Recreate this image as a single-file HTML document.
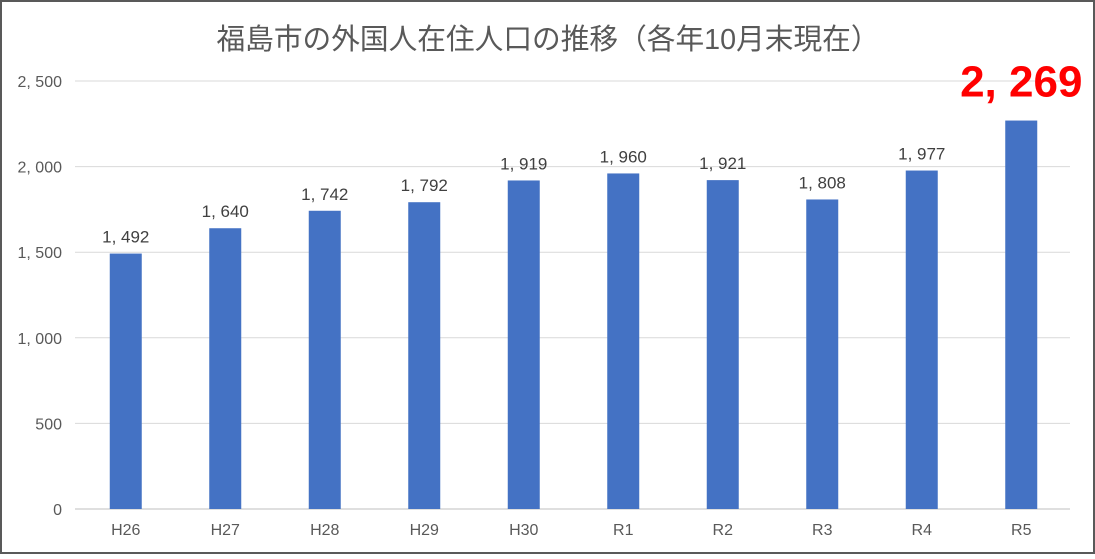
<!DOCTYPE html>
<html><head><meta charset="utf-8"><style>
body{margin:0;background:#fff}
svg text{font-family:"Liberation Sans","Noto Sans CJK JP",sans-serif}
</style></head><body>
<svg width="1095" height="554" viewBox="0 0 1095 554">
<rect x="1" y="1" width="1093" height="552" fill="#fff" stroke="#595959" stroke-width="2"/>
<text x="548" y="49" text-anchor="middle" font-size="28.7" fill="#595959">福島市の外国人在住人口の推移（各年10月末現在）</text>
<g id="grid"></g>
<g id="yt"></g>
<g id="bars"></g>
<g id="xt"></g>
</svg>
<script>
const categories=["H26","H27","H28","H29","H30","R1","R2","R3","R4","R5"];
const values=[1492,1640,1742,1792,1919,1960,1921,1808,1977,2269];
const yTicks=[0,500,1000,1500,2000,2500];
const NS="http://www.w3.org/2000/svg";
const x0=75,x1=1070,yBase=509,yMax=2500,yTop=81;
const y=v=>yBase-(v/yMax)*(yBase-yTop);
const band=(x1-x0)/categories.length;
const xc=i=>x0+band*(i+0.5);
const fmt=v=>v.toLocaleString('en-US').replace(',',', ');
function mk(t,a,p,txt){const e=document.createElementNS(NS,t);for(const k in a)e.setAttribute(k,a[k]);if(txt!=null)e.textContent=txt;p.appendChild(e);return e;}
const g=document.getElementById('grid'),yt=document.getElementById('yt'),b=document.getElementById('bars'),xt=document.getElementById('xt');
yTicks.forEach(v=>{
 const l=mk('line',{x1:x0,x2:x1,y1:y(v),y2:y(v),stroke:v===0?'#bfbfbf':'#d9d9d9','stroke-width':1},g);
 
 
 const t=mk('text',{x:62,y:y(v)+6,'text-anchor':'end','font-size':16,fill:'#595959'},yt,fmt(v));
 
 
});
categories.forEach((c,i)=>{
 const v=values[i],w=32;
 const r=mk('rect',{x:xc(i)-w/2+1,y:y(v),width:w,height:yBase-y(v),fill:'#4472c4'},b);
 
 
 const last=i===categories.length-1;
 const t=mk('text',{x:xc(i)+1,y:last?y(v)-24:y(v)-11,'text-anchor':'middle','font-size':last?44:17,'font-weight':last?'bold':'normal',fill:last?'#ff0000':'#404040'},b,fmt(v));
 
 
 const xl=mk('text',{x:xc(i)+1,y:535,'text-anchor':'middle','font-size':16,fill:'#595959'},xt,c);
 
 
});
</script>
</body></html>
